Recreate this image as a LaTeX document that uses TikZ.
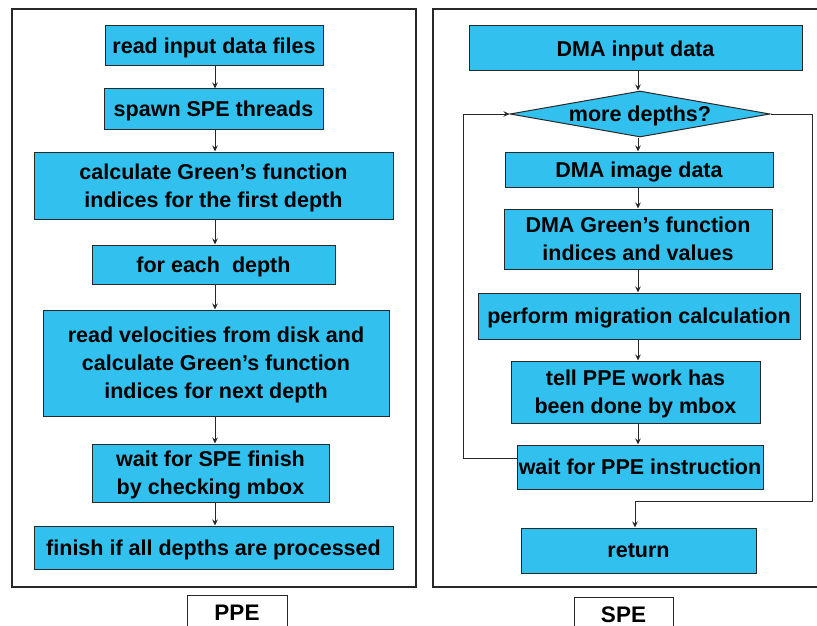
\documentclass[tikz,border=0pt]{standalone}
\usepackage{fontspec}
\setmainfont{Liberation Sans}
\usetikzlibrary{shapes.geometric,arrows.meta}
\definecolor{boxblue}{RGB}{50,193,238}
\definecolor{edge}{RGB}{40,40,40}
\begin{document}
\begin{tikzpicture}[x=1pt,y=-1pt,
  stepbox/.style={draw=edge,line width=1pt,fill=boxblue,inner sep=0pt,align=center,
    text depth=-1pt,font=\fontsize{21.5}{28}\selectfont\bfseries},
  decision/.style={diamond,draw=edge,line width=1pt,fill=boxblue,inner sep=0pt,
    aspect=5.65,minimum width=260pt,minimum height=46pt,text depth=-1pt,
    font=\fontsize{21.5}{28}\selectfont\bfseries},
  labelbox/.style={draw=edge,line width=1pt,fill=white,inner sep=0pt,
    font=\fontsize{22.5}{24}\selectfont\bfseries},
  frame/.style={draw=edge,line width=1.2pt},
  arr/.style={draw=edge,line width=1pt,-{Stealth[length=6pt,width=5.5pt]}}]
\clip (0,0) rectangle (817,626);
% frames
\draw[frame] (12,9) rectangle (416,587);
\draw[frame] (820,9) -| (433,587) -- (820,587);
% left column
\coordinate (ax) at (215,0);
\node[stepbox,minimum width=218pt,minimum height=40pt] (n1) at (214,46) {read input data files};
\node[stepbox,minimum width=219pt,minimum height=40pt] (n2) at (213.5,109) {spawn SPE threads};
\node[stepbox,minimum width=359pt,minimum height=67pt] (n3) at (213.5,185.5) {calculate Green’s function\\indices for the first depth};
\node[stepbox,minimum width=243pt,minimum height=39pt] (n4) at (213.5,264.5) {for each\ \ depth};
\node[stepbox,minimum width=346pt,minimum height=106pt] (n5) at (216,363) {read velocities from disk and\\calculate Green’s function\\indices for next depth};
\node[stepbox,minimum width=237pt,minimum height=58pt] (n6) at (210.5,473) {wait for SPE finish\\by checking mbox};
\node[stepbox,minimum width=359pt,minimum height=43pt] (n7) at (213.5,547.5) {finish if all depths are processed};
\foreach \a/\b in {n1/n2,n2/n3,n3/n4,n4/n5,n5/n6,n6/n7}
  \draw[arr] (\a.south -| ax) -- (\b.north -| ax);
% right column
\coordinate (bx) at (638,0);
\node[stepbox,minimum width=333pt,minimum height=45pt] (r1) at (635.5,48.5) {DMA input data};
\node[decision] (d) at (640,114) {more depths?};
\node[stepbox,minimum width=268pt,minimum height=35pt] (r2) at (639,169.5) {DMA image data};
\node[stepbox,minimum width=268pt,minimum height=60pt] (r3) at (638,239) {DMA Green’s function\\indices and values};
\node[stepbox,minimum width=322pt,minimum height=46pt] (r4) at (639,316) {perform migration calculation};
\node[stepbox,minimum width=249pt,minimum height=62pt] (r5) at (635.5,392) {tell PPE work has\\been done by mbox};
\node[stepbox,minimum width=246pt,minimum height=44pt] (r6) at (640,467) {wait for PPE instruction};
\node[stepbox,minimum width=235pt,minimum height=45pt] (r7) at (638.5,550.5) {return};
\draw[arr] (r1.south -| bx) -- (d.north -| bx);
\draw[arr] (d.south -| bx) -- (r2.north -| bx);
\foreach \a/\b in {r2/r3,r3/r4,r4/r5,r5/r6}
  \draw[arr] (\a.south -| bx) -- (\b.north -| bx);
% loop back
\coordinate (lb) at (463,458);
\coordinate (lt) at (463,114);
\draw[arr] ([yshift=9pt]r6.west) -- (lb) -- (lt) -- (d.west);
% exit
\coordinate (rt) at (812,114);
\coordinate (rb) at (812,501);
\coordinate (rr) at (635,501);
\draw[arr] (d.east) -- (rt) -- (rb) -- (rr) -- (rr |- r7.north);
% labels
\node[labelbox,minimum width=100pt,minimum height=36pt] (ppe) at (237,613) {PPE};
\node[labelbox,minimum width=99pt,minimum height=36pt] (spe) at (623.5,615) {SPE};
\end{tikzpicture}
\end{document}
